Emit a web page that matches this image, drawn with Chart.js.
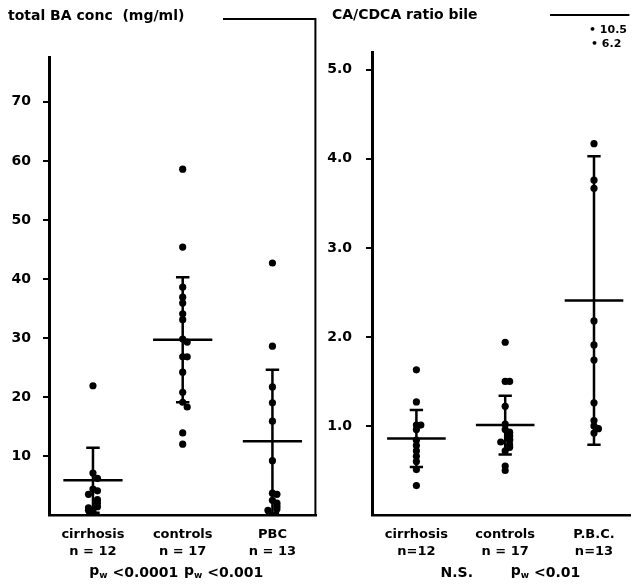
<!DOCTYPE html>
<html>
<head>
<meta charset="utf-8">
<script src="https://cdn.jsdelivr.net/npm/chart.js@4.4.1/dist/chart.umd.min.js"></script>
<style>
  html, body { margin: 0; padding: 0; background: #fff; }
  #wrap { position: relative; width: 634px; height: 585px; }
  .panel { position: absolute; top: 0; height: 585px; }
  #left { left: 0; width: 320px; }
  #right { left: 320px; width: 314px; }
</style>
</head>
<body>
<div id="wrap">
  <div class="panel" id="left"><canvas id="baChart" width="320" height="585"></canvas></div>
  <div class="panel" id="right"><canvas id="ratioChart" width="314" height="585"></canvas></div>
</div>
<script>
// groups and sample sizes
const baGroups = ['cirrhosis', 'controls', 'PBC'];
const baCounts = ['n = 12', 'n = 17', 'n = 13'];
const ratioGroups = ['cirrhosis', 'controls', 'P.B.C.'];
const ratioCounts = ['n=12', 'n = 17', 'n=13'];

// total bile acid concentration, mg/ml
const baCirrhosis = [21.9, 7.1, 6.2, 4.4, 4.1, 3.5, 2.6, 2.0, 1.4, 1.2, 0.8, 0.6];
const baControls = [58.6, 45.4, 38.6, 36.9, 35.9, 34.1, 33.1, 29.8, 29.3, 26.8, 26.8, 24.2, 20.8, 19.1, 18.3, 13.9, 12.0];
const baPbc = [42.7, 28.6, 21.7, 19.0, 15.9, 9.2, 3.7, 3.5, 2.5, 2.0, 1.5, 1.0, 0.8];
const baMean = [5.9, 29.7, 12.5];
const baSd = [5.5, 10.6, 12.1];
const baTicks = [10, 20, 30, 40, 50, 60, 70];
const baTests = ['pw <0.0001', 'pw <0.001'];

// CA/CDCA ratio in bile
const ratioCirrhosis = [1.63, 1.27, 1.01, 1.01, 0.96, 0.84, 0.78, 0.72, 0.66, 0.60, 0.51, 0.33];
const ratioControls = [1.94, 1.50, 1.50, 1.22, 1.02, 0.96, 0.93, 0.90, 0.88, 0.85, 0.84, 0.82, 0.79, 0.76, 0.72, 0.55, 0.50];
const ratioPbc = [10.5, 6.2, 4.17, 3.76, 3.67, 2.18, 1.91, 1.74, 1.26, 1.06, 1.00, 0.97, 0.92];
const ratioMean = [0.86, 1.01, 2.41];
const ratioSd = [0.32, 0.33, 1.62];
const ratioTicks = [1, 2, 3, 4, 5];
const ratioTests = ['N.S.', 'pw <0.01'];

const FONT = '"DejaVu Sans", sans-serif';

// side-by-side offsets for dots that would sit on top of each other
function spread(values, gi, near, step, yMax) {
  const placed = [];
  return values.filter(v => v <= yMax).map(v => {
    const k = placed.filter(p => Math.abs(p - v) < near).length % 3;
    placed.push(v);
    const off = k === 0 ? 0 : (k === 1 ? step : -step);
    return { x: gi + off, y: v };
  });
}

// "p" with a subscript "w", then the rest of the text
function drawTest(ctx, text, cx, cy) {
  ctx.textBaseline = 'middle';
  ctx.textAlign = 'left';
  if (!text.startsWith('pw')) {
    ctx.font = 'bold 14px ' + FONT;
    ctx.fillText(text, cx - ctx.measureText(text).width / 2, cy);
    return;
  }
  const rest = text.slice(2);
  ctx.font = 'bold 14px ' + FONT;
  const wp = ctx.measureText('p').width;
  const wr = ctx.measureText(rest).width;
  ctx.font = 'bold 9px ' + FONT;
  const ww = ctx.measureText('w').width;
  let x = cx - (wp + ww + wr) / 2;
  ctx.font = 'bold 14px ' + FONT;
  ctx.fillText('p', x, cy - 2);
  x += wp;
  ctx.font = 'bold 9px ' + FONT;
  ctx.fillText('w', x, cy + 3);
  x += ww;
  ctx.font = 'bold 14px ' + FONT;
  ctx.fillText(rest, x, cy);
}

function makePanel(canvas, cfg) {
  const datasets = cfg.values.map((vals, gi) => ({
    data: spread(vals, gi, cfg.near, 0.05, cfg.yMax),
    backgroundColor: '#000',
    borderWidth: 0,
    pointRadius: 3.6,
    pointHoverRadius: 3.6
  }));

  const summary = {
    id: 'summary',
    afterDatasetsDraw(chart) {
      const { ctx, chartArea, scales: { x, y } } = chart;
      ctx.save();
      ctx.strokeStyle = '#000';
      ctx.fillStyle = '#000';
      ctx.lineCap = 'butt';

      // mean and SD bars
      cfg.mean.forEach((m, i) => {
        const px = x.getPixelForValue(i);
        const lowVal = m - cfg.sd[i];
        const hi = y.getPixelForValue(m + cfg.sd[i]);
        const lo = y.getPixelForValue(Math.max(lowVal, 0));
        ctx.lineWidth = 2.5;
        ctx.beginPath();
        ctx.moveTo(px, hi); ctx.lineTo(px, lo);
        ctx.moveTo(x.getPixelForValue(i - 0.075), hi); ctx.lineTo(x.getPixelForValue(i + 0.075), hi);
        if (lowVal > 0) {
          ctx.moveTo(x.getPixelForValue(i - 0.075), lo); ctx.lineTo(x.getPixelForValue(i + 0.075), lo);
        }
        const pm = y.getPixelForValue(m);
        ctx.moveTo(x.getPixelForValue(i - 0.33), pm); ctx.lineTo(x.getPixelForValue(i + 0.33), pm);
        ctx.stroke();
      });

      // frame line beside the title
      ctx.lineWidth = 2;
      ctx.beginPath();
      ctx.moveTo(cfg.frame[0], cfg.frame[1]);
      ctx.lineTo(chartArea.right - 1, cfg.frame[1]);
      if (cfg.closeRight) ctx.lineTo(chartArea.right - 1, chartArea.bottom);
      ctx.stroke();

      // title
      ctx.font = 'bold 14px ' + FONT;
      ctx.textAlign = 'left';
      ctx.textBaseline = 'middle';
      ctx.fillText(cfg.title, cfg.titlePos[0], cfg.titlePos[1]);

      // values above the top of the axis
      const over = cfg.values[2].filter(v => v > cfg.yMax);
      ctx.font = 'bold 11px ' + FONT;
      over.forEach((v, k) => {
        ctx.fillText('\u2022 ' + String(v), x.getPixelForValue(2) - 5 + k * 2, 30 + k * 14);
      });

      // significance line under the groups
      cfg.tests.forEach((t, k) => {
        const cx = (x.getPixelForValue(k) + x.getPixelForValue(k + 1)) / 2 - 4;
        drawTest(ctx, t, cx, 573);
      });
      ctx.restore();
    }
  };

  return new Chart(canvas, {
    type: 'scatter',
    data: { datasets },
    plugins: [summary],
    options: {
      responsive: false,
      animation: false,
      events: [],
      layout: { padding: { left: 0, right: cfg.padRight, top: cfg.top, bottom: 30 } },
      plugins: { legend: { display: false }, tooltip: { enabled: false } },
      scales: {
        x: {
          type: 'linear',
          min: cfg.xMin,
          max: cfg.xMax,
          afterBuildTicks: s => { s.ticks = [0, 1, 2].map(v => ({ value: v })); },
          afterFit: s => { s.height = 40; },
          grid: { display: false, drawTicks: false },
          border: { display: true, color: '#000', width: 2.5 },
          ticks: {
            color: '#000',
            padding: 11,
            maxRotation: 0,
            autoSkip: false,
            font: { family: FONT, size: 13, weight: 'bold', lineHeight: 1.3 },
            callback: v => [cfg.groups[v], cfg.counts[v]]
          }
        },
        y: {
          type: 'linear',
          min: 0,
          max: cfg.yMax,
          afterBuildTicks: s => { s.ticks = cfg.ticks.map(v => ({ value: v })); },
          afterFit: s => { s.width = cfg.axisX; },
          grid: { display: true, drawOnChartArea: false, drawTicks: true, tickLength: 6, color: '#000', lineWidth: 2 },
          border: { display: true, color: '#000', width: 3 },
          ticks: {
            color: '#000',
            padding: cfg.tickPad,
            font: { family: FONT, size: 14, weight: 'bold' },
            callback: cfg.fmt
          }
        }
      }
    }
  });
}

makePanel(document.getElementById('baChart'), {
  title: 'total BA conc  (mg/ml)',
  titlePos: [8, 16],
  frame: [223, 19],
  closeRight: true,
  groups: baGroups,
  counts: baCounts,
  values: [baCirrhosis, baControls, baPbc],
  mean: baMean,
  sd: baSd,
  ticks: baTicks,
  tests: baTests,
  fmt: v => String(v),
  near: 1.0,
  yMax: 77.6,
  xMin: -0.49,
  xMax: 2.49,
  axisX: 49,
  tickPad: 12,
  top: 57,
  padRight: 2
});

makePanel(document.getElementById('ratioChart'), {
  title: 'CA/CDCA ratio bile',
  titlePos: [12, 15],
  frame: [230, 15],
  closeRight: false,
  groups: ratioGroups,
  counts: ratioCounts,
  values: [ratioCirrhosis, ratioControls, ratioPbc],
  mean: ratioMean,
  sd: ratioSd,
  ticks: ratioTicks,
  tests: ratioTests,
  fmt: v => v.toFixed(1),
  near: 0.04,
  yMax: 5.2,
  xMin: -0.5,
  xMax: 2.41,
  axisX: 52,
  tickPad: 14,
  top: 52,
  padRight: 0
});
</script>
</body>
</html>
